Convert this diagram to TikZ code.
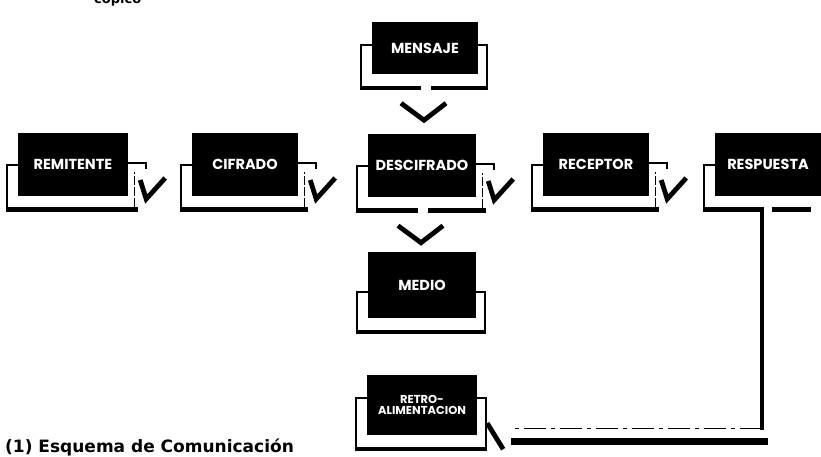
\documentclass[tikz,border=0pt]{standalone}
\usepackage{fontspec}
\setmainfont{Poppins}
\newfontfamily\capfont{DejaVu Sans}
\usetikzlibrary{calc}

\tikzset{
  blk/.style={fill=black, text=white, inner sep=0pt, align=center,
    font=\bfseries\fontsize{14.5}{15}\selectfont},
  frm/.style={line width=1.8pt},
  frmd/.style={line width=1.4pt, dash pattern=on 9pt off 2pt},
  base/.style={line width=4.5pt},
  chk/.style={line width=4.8pt, line join=miter, line cap=butt},
  fbline/.style={line width=3.5pt},
  fbdash/.style={line width=1.4pt, dash pattern=on 22pt off 5pt on 4pt off 5pt},
  fbbase/.style={line width=7pt},
}

% left side of a frame: stub at height #2 below the centre, then down
\newcommand\frameleft[2]{%
  \draw[frm] ($(#1.west)+(0,#2)$) -- ($(#1.west)+(-11,#2)$) -- ($(#1.south west)+(-11,15)$);}
% right side of a horizontal-flow frame, with the check-mark arrow
\newcommand\frameright[1]{%
  \draw[frmd] ($(#1.south east)+(6,11)$) -- ($(#1.east)+(6,8)$);
  \draw[frm] ($(#1.east)+(0,-1)$) -- ($(#1.east)+(18,-1)$) -- ($(#1.east)+(18,5)$);
  \draw[chk] ($(#1.east)+(12,16)$) -- ($(#1.east)+(18,35)$) -- ($(#1.east)+(37,14)$);}
% plain right side of a frame
\newcommand\frameplainright[2]{%
  \draw[frm] ($(#1.east)+(0,#2)$) -- ($(#1.east)+(9,#2)$) -- ($(#1.south east)+(9,13)$);}
% bottom bar, full
\newcommand\framebase[1]{%
  \draw[base] ($(#1.south west)+(-12,14)$) -- ($(#1.south east)+(10,14)$);}
% bottom bar with an opening under the centre, and the chevron below it
\newcommand\framebasegap[1]{%
  \draw[base] ($(#1.south west)+(-12,14)$) -- ($(#1.south)+(-4,14)$);
  \draw[base] ($(#1.south)+(6,14)$) -- ($(#1.south east)+(10,14)$);
  \draw[chk] ($(#1.south)+(-24,29)$) -- ($(#1.south)+(-1,46)$) -- ($(#1.south)+(21,29)$);}

\begin{document}
\begin{tikzpicture}[x=1pt, y=-1pt]
\useasboundingbox (0,0) rectangle (821,456);
\clip (0,0) rectangle (821,456);

% message flow, left to right
\node[blk, minimum width=110, minimum height=63] (remit) at (73,164) {REMITENTE};
\node[blk, minimum width=106, minimum height=63] (cifr)  at (245,164) {CIFRADO};
\node[blk, minimum width=108, minimum height=63] (desc)  at (422,165) {DESCIFRADO};
\node[blk, minimum width=106, minimum height=63] (recep) at (596,164) {RECEPTOR};
\node[blk, minimum width=106, minimum height=63] (resp)  at (768,164) {RESPUESTA};

% vertical branch
\node[blk, minimum width=106, minimum height=52] (mens)  at (425,48) {MENSAJE};
\node[blk, minimum width=108, minimum height=66] (medio) at (422,285) {MEDIO};
\node[blk, minimum width=110, minimum height=60,
      font=\bfseries\fontsize{11.5}{11.5}\selectfont] (retro) at (422,405) {RETRO-\\ALIMENTACION};

% frames
\frameleft{remit}{1}  \framebase{remit} \frameright{remit}
\frameleft{cifr}{1}   \framebase{cifr}  \frameright{cifr}
\frameleft{recep}{1}  \framebase{recep} \frameright{recep}
\frameleft{desc}{1}   \framebasegap{desc} \frameright{desc}

\frameleft{mens}{-3}  \frameplainright{mens}{-3} \framebasegap{mens}
\frameleft{medio}{7}  \frameplainright{medio}{7} \framebase{medio}
\frameleft{retro}{-7} \frameplainright{retro}{-7} \framebase{retro}

% response frame and feedback loop
\coordinate (fbtop) at ($(resp.south)+(-6,11)$);
\coordinate (fbend) at ($(retro.south east)+(34,-7)$);
\coordinate (fbcorner) at (fbtop |- fbend);
\frameleft{resp}{1}
\draw[base] ($(resp.south west)+(-12,14)$) -- ($(fbtop)+(1,3)$);
\draw[base] ($(fbtop)+(10,3)$) -- ($(resp.south east)+(-10,14)$);
\draw[fbline] (fbtop) -- ($(fbcorner)+(0,2)$);
\draw[fbdash] (fbcorner) -- (fbend);
\draw[fbbase] ($(fbcorner)+(6,13)$) -- ($(fbend)+(0,13)$);
\draw[chk] ($(retro.south east)+(10,-12)$) -- ($(retro.south east)+(26,14)$);

% texts
\node[anchor=base west, inner sep=0pt,
      font=\capfont\bfseries\fontsize{13}{13}\selectfont] (frag) at (94,3) {copico};
\node[anchor=base west, inner sep=0pt,
      font=\capfont\bfseries\fontsize{17}{18}\selectfont] (cap) at (5,452) {(1) Esquema de Comunicación};
\end{tikzpicture}
\end{document}
